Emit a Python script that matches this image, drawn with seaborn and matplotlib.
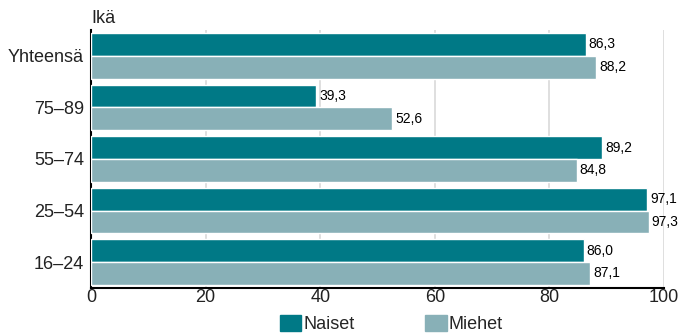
import pandas as pd
import matplotlib.pyplot as plt
import seaborn as sns

# --- data ---
age_groups = ["Yhteensä", "75–89", "55–74", "25–54", "16–24"]
naiset = [86.3, 39.3, 89.2, 97.1, 86.0]
miehet = [88.2, 52.6, 84.8, 97.3, 87.1]
series_names = ["Naiset", "Miehet"]
x_ticks = [0, 20, 40, 60, 80, 100]

df = pd.DataFrame({
    "ika": age_groups * 2,
    "arvo": naiset + miehet,
    "sukupuoli": [series_names[0]] * len(age_groups) + [series_names[1]] * len(age_groups),
})

# --- style ---
sns.set_style("white")
plt.rcParams['font.family'] = ['Liberation Sans', 'DejaVu Sans']

colors = {"Naiset": "#007986", "Miehet": "#88b0b7"}

fig = plt.figure(figsize=(6.79, 3.34), dpi=100)
ax = fig.add_axes([0.134, 0.138, 0.844, 0.772])

sns.barplot(
    data=df, x="arvo", y="ika", hue="sukupuoli",
    order=age_groups, hue_order=series_names,
    palette=colors, saturation=1, width=0.88, orient="h",
    edgecolor="white", linewidth=1, ax=ax, zorder=3,
)

# value labels with decimal comma
for cont in ax.containers:
    labels = [f"{v:.1f}".replace(".", ",") for v in cont.datavalues]
    ax.bar_label(cont, labels=labels, padding=2, fontsize=10, color="black")

ax.set_xlim(0, 100)
ax.set_xticks(x_ticks)
ax.set_xticklabels([str(t) for t in x_ticks], fontsize=13, color="#222222")
ax.tick_params(axis="y", labelsize=13, labelcolor="#222222", length=0, pad=5)
ax.tick_params(axis="x", length=0, pad=1)
ax.set_xlabel("")
ax.set_ylabel("")

ax.grid(axis="x", color="#d9d9d9", linewidth=1.2, zorder=0)
ax.grid(axis="y", visible=False)
for side in ["top", "right"]:
    ax.spines[side].set_visible(False)
for side in ["left", "bottom"]:
    ax.spines[side].set_color("black")
    ax.spines[side].set_linewidth(1.5)

ax.text(0.0, 1.01, "Ikä", transform=ax.transAxes, fontsize=13, color="#222222",
        ha="left", va="bottom")

ax.legend_.remove()
handles = [plt.Rectangle((0, 0), 1, 1, color=colors[s]) for s in series_names]
fig.legend(handles, series_names, loc="lower center", bbox_to_anchor=(0.576, -0.045),
           ncol=2, frameon=False, fontsize=13, handlelength=1.2, handleheight=1.0,
           handletextpad=0.1, columnspacing=3.9)

fig.savefig("out.png", dpi=100)
